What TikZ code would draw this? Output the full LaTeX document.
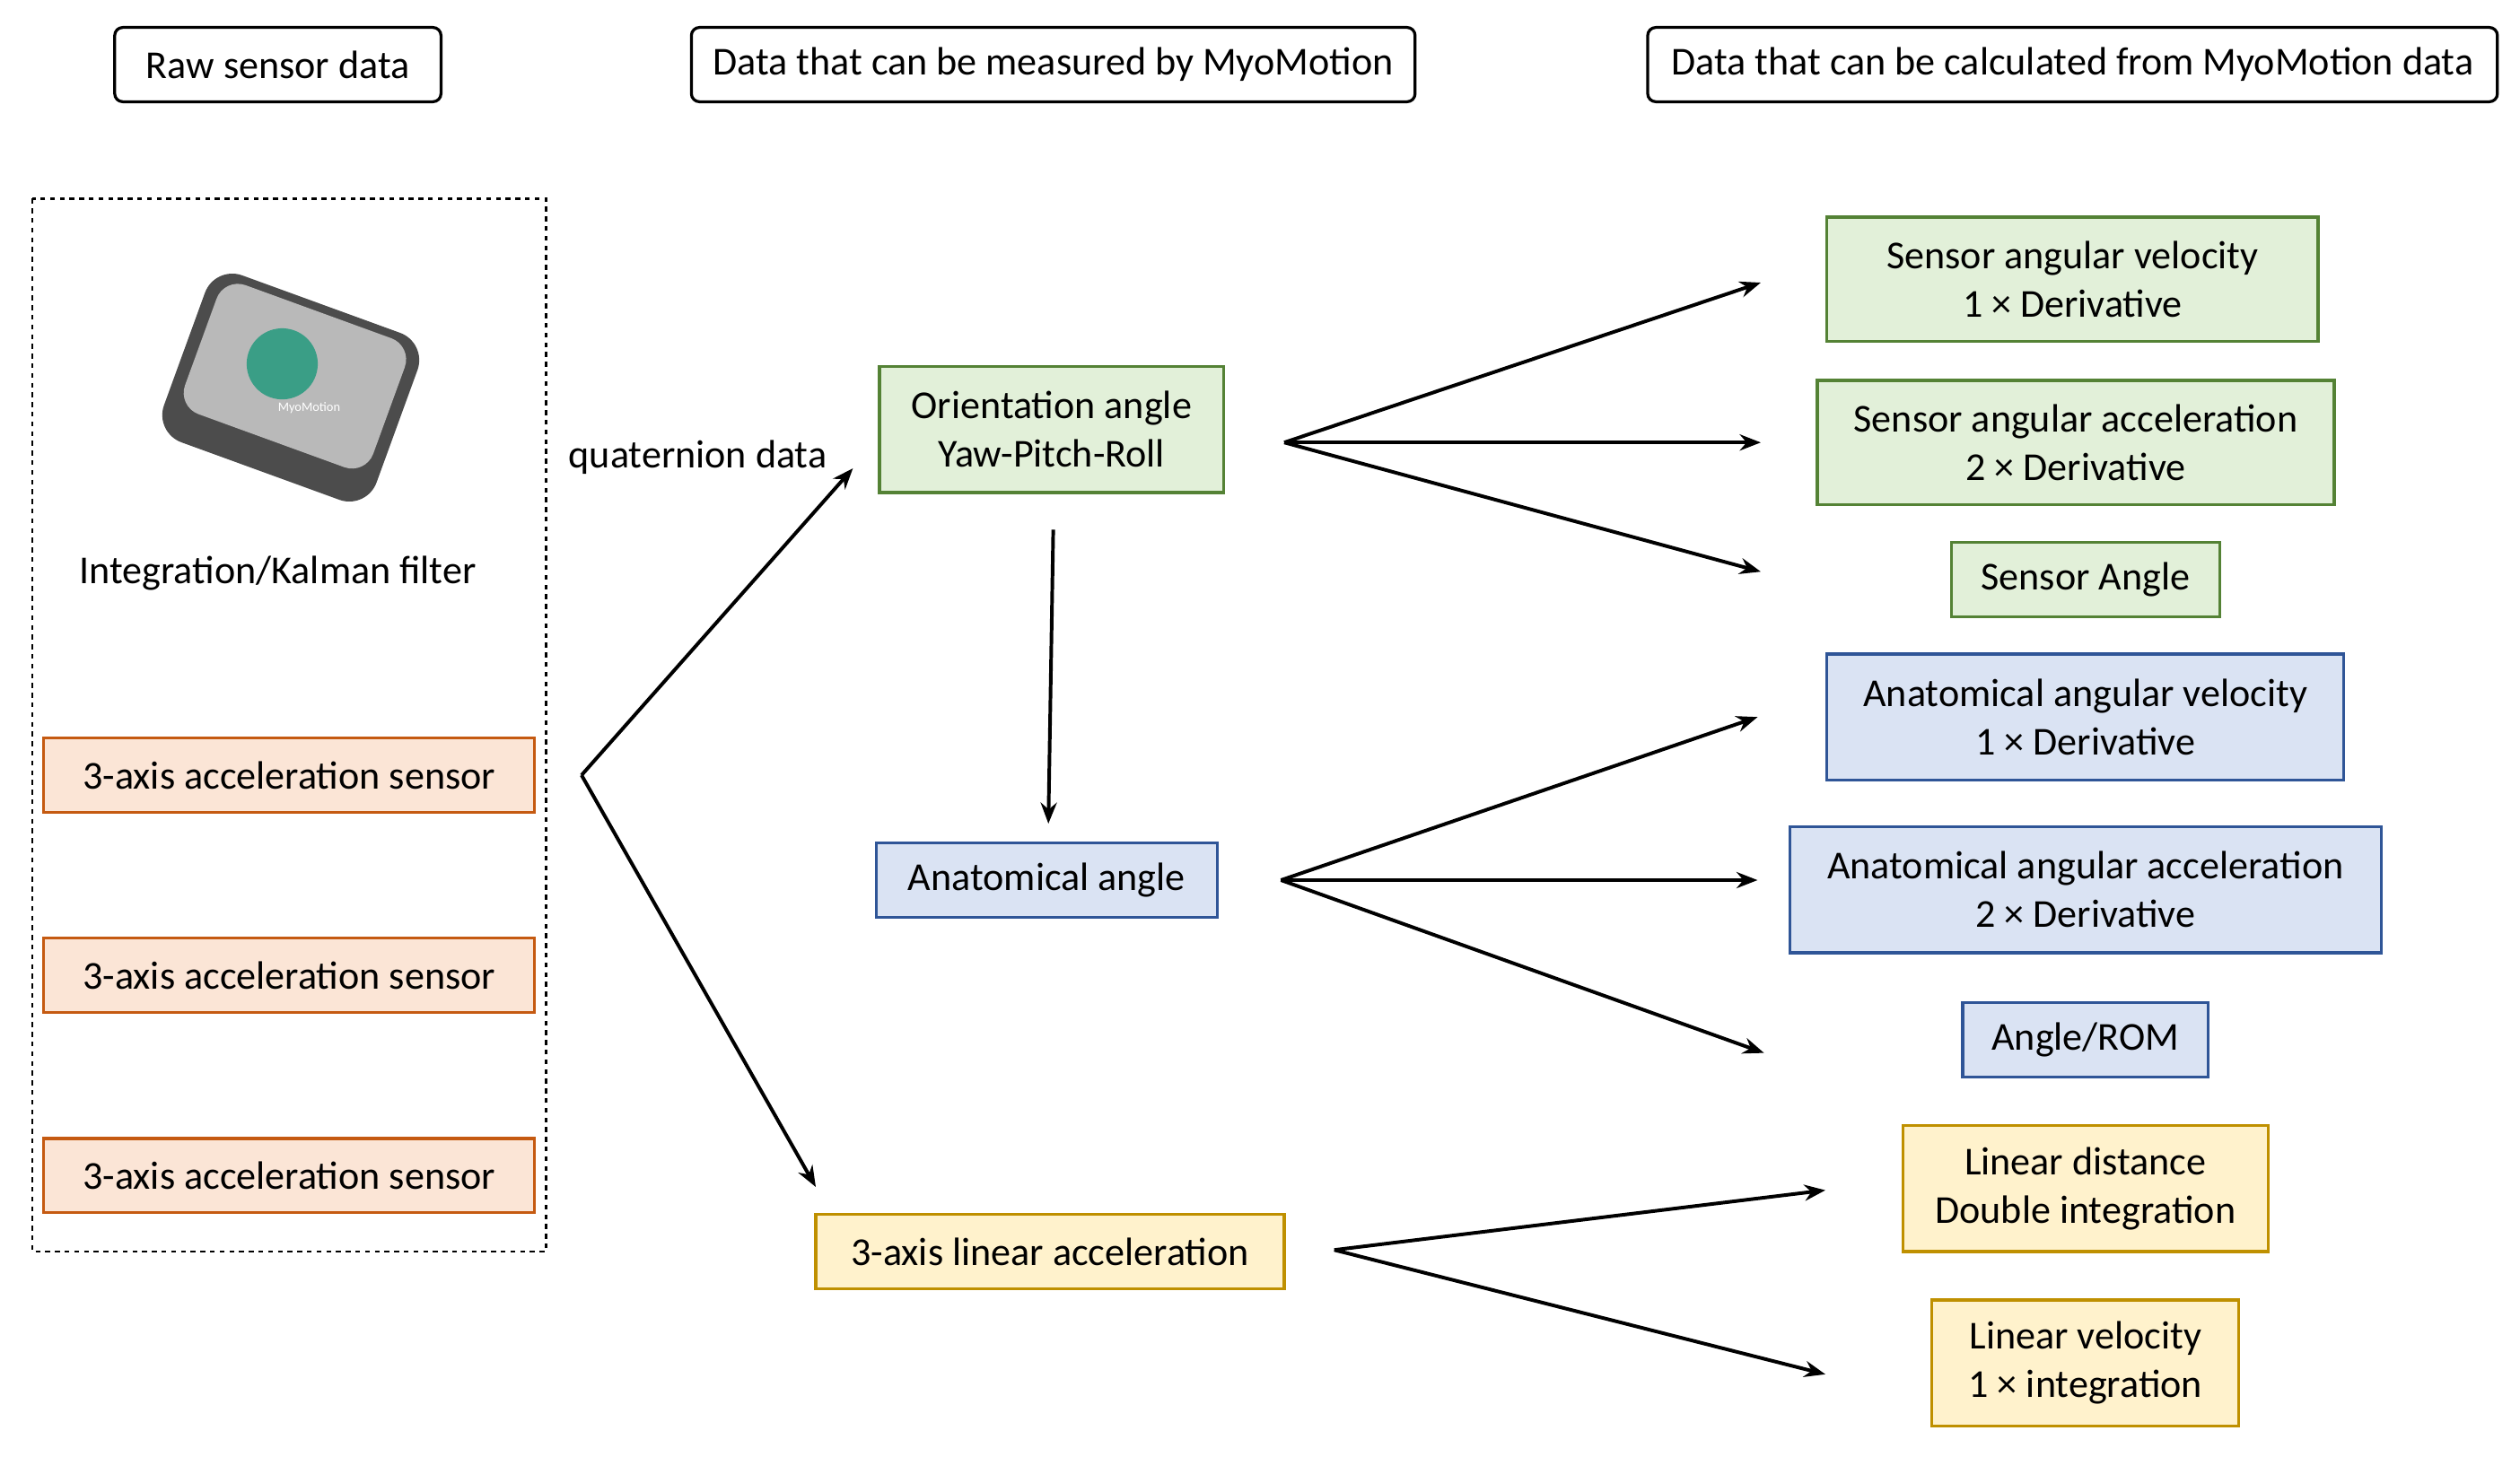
\documentclass[tikz,border=0pt]{standalone}
\usepackage{fontspec}
\setmainfont{Carlito}
\usetikzlibrary{arrows.meta}
\definecolor{og}{HTML}{FBE5D6}\definecolor{ob}{HTML}{C55A11}
\definecolor{gf}{HTML}{E2F0D9}\definecolor{gb}{HTML}{548235}
\definecolor{bf}{HTML}{DAE3F3}\definecolor{bb}{HTML}{2F5597}
\definecolor{yf}{HTML}{FFF2CC}\definecolor{yb}{HTML}{BF9000}
\definecolor{myo}{HTML}{3A9E86}
\begin{document}
\begin{tikzpicture}[x=1pt,y=-1pt,
  every node/.style={font=\fontsize{24.5}{30}\selectfont,align=center,inner sep=0pt},
  hdr/.style={draw=black,line width=1.8pt,rounded corners=5pt,minimum height=46pt},
  bx/.style={line width=1.8pt,minimum height=46pt},
  org/.style={bx,fill=og,draw=ob},
  grn/.style={bx,fill=gf,draw=gb},
  blu/.style={bx,fill=bf,draw=bb},
  yel/.style={bx,fill=yf,draw=yb},
  ar/.style={line width=2.2pt,-{Stealth[length=13pt,width=10pt]}}]
\useasboundingbox (0,0) rectangle (1560,902);
\fill[white] (0,0) rectangle (1560,902);
\node[hdr,minimum width=202pt] (h1) at (172,40) {Raw sensor data};
\node[hdr,minimum width=448pt] (h2) at (652,40) {Data that can be measured by MyoMotion};
\node[hdr,minimum width=526pt] (h3) at (1283,40) {Data that can be calculated from MyoMotion data};
\draw[dashed,line width=1.3pt] (20,123) rectangle (338,775);
% device
\begin{scope}[shift={(180,240)},rotate=-20]
\fill[gray!60!black,rounded corners=18pt] (-70,-55) rectangle (70,55);
\fill[gray!55,rounded corners=14pt] (-62,-50) rectangle (62,35);
\fill[myo] (-10,-12) circle (22);
\node[font=\fontsize{8}{9}\selectfont,text=white] (dev) at (15,8) {MyoMotion};
\end{scope}
\node (kal) at (172,355) {Integration/Kalman filter};
\node[org,minimum width=304pt] (s1) at (179,480) {3-axis acceleration sensor};
\node[org,minimum width=304pt] (s2) at (179,604) {3-axis acceleration sensor};
\node[org,minimum width=304pt] (s3) at (179,728) {3-axis acceleration sensor};
\node[grn,minimum width=213pt,minimum height=78pt] (oa) at (651,266) {Orientation angle\\Yaw-Pitch-Roll};
\node[blu,minimum width=211pt] (aa) at (648,545) {Anatomical angle};
\node[yel,minimum width=290pt] (la) at (650,775) {3-axis linear acceleration};
\node (q) at (432,283) {quaternion data};
\node[grn,minimum width=304pt,minimum height=77pt] (r1) at (1283,173) {Sensor angular velocity\\1 × Derivative};
\node[grn,minimum width=320pt,minimum height=77pt] (r2) at (1285,274) {Sensor angular acceleration\\2 × Derivative};
\node[grn,minimum width=166pt] (r3) at (1291,359) {Sensor Angle};
\node[blu,minimum width=320pt,minimum height=78pt] (r4) at (1291,444) {Anatomical angular velocity\\1 × Derivative};
\node[blu,minimum width=366pt,minimum height=78pt] (r5) at (1291,551) {Anatomical angular acceleration\\2 × Derivative};
\node[blu,minimum width=152pt] (r6) at (1291,644) {Angle/ROM};
\node[yel,minimum width=226pt,minimum height=78pt] (r7) at (1291,736) {Linear distance\\Double integration};
\node[yel,minimum width=190pt,minimum height=78pt] (r8) at (1291,844) {Linear velocity\\1 × integration};
\coordinate (j) at (360,480);
\coordinate (ja) at (528,290); \coordinate (jb) at (505,735);
\draw[ar] (j) -- (ja); \draw[ar] (j) -- (jb);
\coordinate (od) at (652,328); \coordinate (oe) at (649,510);
\draw[ar] (od) -- (oe);
\coordinate (f1) at (795,274);
\coordinate (t1) at (1090,175);\coordinate (t2) at (1090,274);\coordinate (t3) at (1090,354);
\draw[ar] (f1)--(t1); \draw[ar] (f1)--(t2); \draw[ar] (f1)--(t3);
\coordinate (f2) at (793,545);
\coordinate (t4) at (1088,444);\coordinate (t5) at (1088,545);\coordinate (t6) at (1092,652);
\draw[ar] (f2)--(t4); \draw[ar] (f2)--(t5); \draw[ar] (f2)--(t6);
\coordinate (f3) at (826,774);
\coordinate (t7) at (1130,737);\coordinate (t8) at (1130,851);
\draw[ar] (f3)--(t7); \draw[ar] (f3)--(t8);
\end{tikzpicture}
\end{document}
